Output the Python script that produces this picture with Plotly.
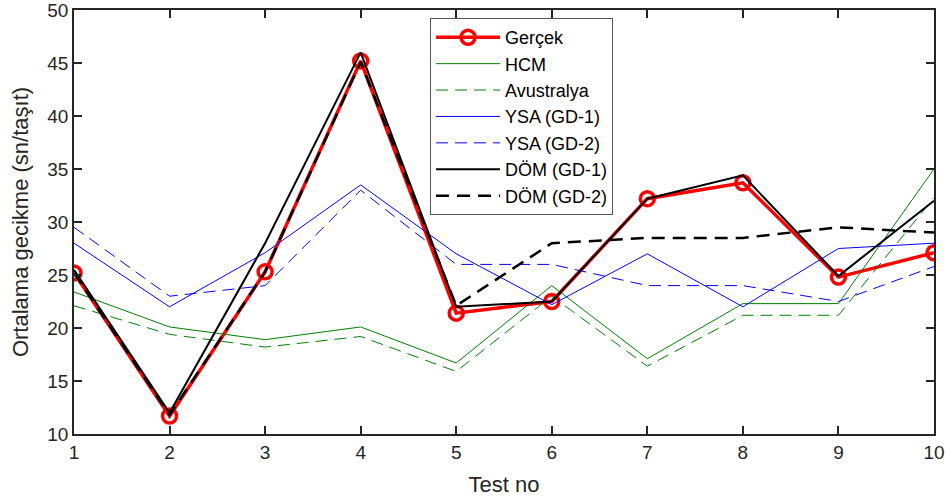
import plotly.graph_objects as go

test_no = [1, 2, 3, 4, 5, 6, 7, 8, 9, 10]
gercek = [25.2, 11.7, 25.3, 45.2, 21.4, 22.5, 32.2, 33.7, 24.8, 27.1]
hcm = [23.4, 20.1, 18.9, 20.1, 16.7, 24.0, 17.1, 22.3, 22.3, 35.0]
avustralya = [22.1, 19.4, 18.2, 19.2, 15.9, 23.0, 16.4, 21.2, 21.2, 32.3]
ysa_gd1 = [28.0, 22.0, 27.1, 33.5, 27.0, 22.2, 27.0, 22.0, 27.5, 28.0]
ysa_gd2 = [29.5, 23.0, 24.0, 33.0, 26.0, 26.0, 24.0, 24.0, 22.5, 25.8]
dom_gd1 = [25.5, 12.0, 28.0, 46.0, 22.0, 22.5, 32.2, 34.4, 24.9, 32.0]
dom_gd2 = [25.2, 11.8, 25.3, 45.1, 22.1, 28.0, 28.5, 28.5, 29.5, 29.0]
y_ticks = [10, 15, 20, 25, 30, 35, 40, 45, 50]

FONT = "Liberation Sans, Arial, sans-serif"
AX = "#262626"

fig = go.Figure()
fig.add_trace(go.Scatter(x=test_no, y=gercek, name="Gerçek", mode="lines+markers",
                         line=dict(color="#ff0000", width=3.5),
                         marker=dict(symbol="circle-open", size=14, color="#ff0000",
                                     line=dict(width=3.5, color="#ff0000"))))
fig.add_trace(go.Scatter(x=test_no, y=hcm, name="HCM", mode="lines",
                         line=dict(color="#008000", width=1)))
fig.add_trace(go.Scatter(x=test_no, y=avustralya, name="Avustralya", mode="lines",
                         line=dict(color="#008000", width=1, dash="12px,7px")))
fig.add_trace(go.Scatter(x=test_no, y=ysa_gd1, name="YSA (GD-1)", mode="lines",
                         line=dict(color="#0000ff", width=1)))
fig.add_trace(go.Scatter(x=test_no, y=ysa_gd2, name="YSA (GD-2)", mode="lines",
                         line=dict(color="#0000ff", width=1, dash="12px,7px")))
fig.add_trace(go.Scatter(x=test_no, y=dom_gd1, name="DÖM (GD-1)", mode="lines",
                         line=dict(color="#000000", width=2)))
fig.add_trace(go.Scatter(x=test_no, y=dom_gd2, name="DÖM (GD-2)", mode="lines",
                         line=dict(color="#000000", width=2.5, dash="13px,8px")))

axis_common = dict(showline=True, linecolor=AX, linewidth=1.5, mirror="ticks",
                   ticks="inside", ticklen=8, tickwidth=1.5, tickcolor=AX,
                   showgrid=False, zeroline=False, automargin=False,
                   ticklabeloverflow="allow",
                   tickfont=dict(family=FONT, size=19, color=AX))

fig.update_xaxes(range=[1, 10], tickvals=test_no, ticktext=[str(v) for v in test_no],
                 title=dict(text="Test no", font=dict(family=FONT, size=22, color=AX), standoff=15),
                 **axis_common)
fig.update_yaxes(range=[10, 50], tickvals=y_ticks,
                 title=dict(text="Ortalama gecikme (sn/taşıt)", font=dict(family=FONT, size=22, color=AX), standoff=13),
                 **axis_common)

fig.update_layout(
    width=945, height=500,
    margin=dict(l=74, r=11, t=10, b=66, autoexpand=False),
    plot_bgcolor="white", paper_bgcolor="white",
    font=dict(family=FONT, color=AX),
    legend=dict(x=0.414, y=0.981, xanchor="left", yanchor="top",
                bgcolor="white", bordercolor="#555555", borderwidth=1,
                font=dict(family=FONT, size=18, color="#000000"),
                itemwidth=64, tracegroupgap=0),
    showlegend=True,
)

fig.write_html("out.html", config={"displayModeBar": False},
               post_script="document.body.style.margin='0px';document.body.style.overflow='hidden';")
